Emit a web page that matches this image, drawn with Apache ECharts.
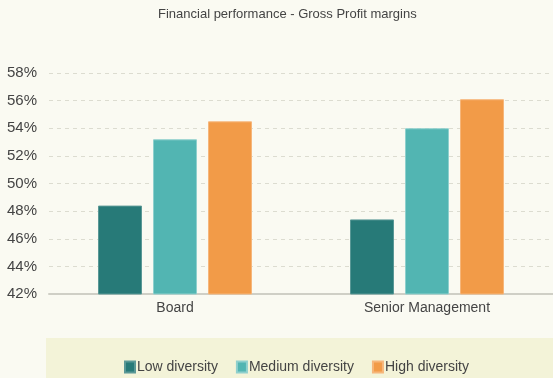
<!DOCTYPE html>
<html><head><meta charset="utf-8">
<script src="https://cdn.jsdelivr.net/npm/echarts@6/dist/echarts.min.js"></script>
<style>html,body{margin:0;padding:0;background:#fafaf2}#c{width:553px;height:378px}</style>
</head><body><div id="c"></div>
<script>
const categories = ['Board', 'Senior Management'];
const seriesNames = ['Low diversity', 'Medium diversity', 'High diversity'];
const lowDiversity = [48.4, 47.4];
const mediumDiversity = [53.2, 54.0];
const highDiversity = [54.5, 56.1];
const colors = ['#277a78', '#52b5b2', '#f29b48'];
const borders = ['#5a9896', '#8fd0cd', '#f6b67a'];
const values = [lowDiversity, mediumDiversity, highDiversity];

const chart = echarts.init(document.getElementById('c'), null, {renderer: 'canvas'});
const font = 'Liberation Sans, Arial, sans-serif';
chart.setOption({
  backgroundColor: '#fafaf2',
  animation: false,
  title: {
    text: 'Financial performance - Gross Profit margins',
    left: 153, top: 3,
    textStyle: {fontFamily: font, fontSize: 13, fontWeight: 'normal', color: '#444'}
  },
  graphic: [{
    type: 'rect', left: 46, top: 338, z: -1,
    shape: {width: 507, height: 40},
    style: {fill: '#f3f3d8'}
  }],
  legend: {
    bottom: -1, left: 119,
    itemWidth: 10, itemHeight: 11, itemGap: 18,
    icon: 'rect',
    textStyle: {fontFamily: font, fontSize: 14, color: '#444', padding: [0, 0, 0, -3]},
    data: seriesNames
  },
  grid: {left: 49, right: 0, top: 73, bottom: 84, containLabel: false},
  xAxis: {
    type: 'category', data: categories,
    axisLine: {lineStyle: {color: '#cfcfc6', width: 2}},
    axisTick: {show: false},
    axisLabel: {fontFamily: font, fontSize: 14, color: '#444', margin: 7}
  },
  yAxis: {
    type: 'value', min: 42, max: 58, interval: 2,
    axisLine: {show: false}, axisTick: {show: false},
    axisLabel: {fontFamily: font, fontSize: 15, color: '#444', formatter: '{value}%', margin: 12},
    splitLine: {lineStyle: {color: '#dcdcd0', type: [4, 4], width: 1}}
  },
  series: values.map((v, i) => ({
    name: seriesNames[i], type: 'bar', data: v,
    barWidth: 44, barGap: '25%',
    itemStyle: {color: colors[i], borderColor: borders[i], borderWidth: 1}
  }))
});
</script></body></html>
